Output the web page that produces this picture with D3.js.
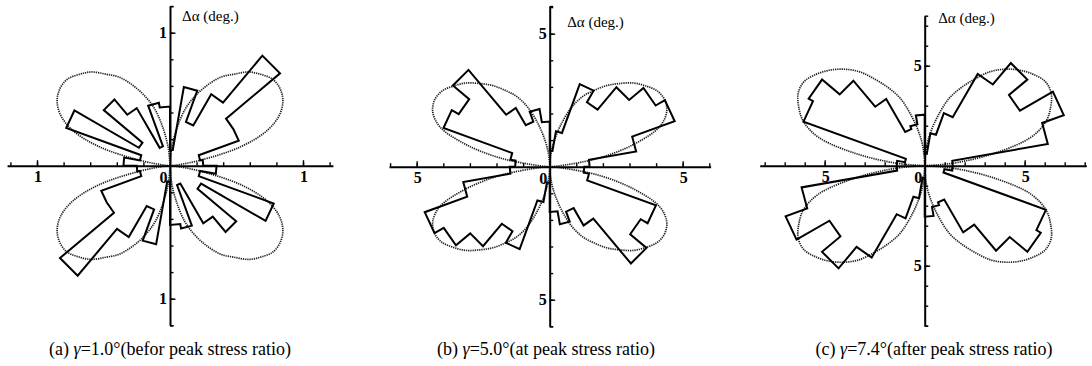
<!DOCTYPE html>
<html>
<head>
<meta charset="utf-8">
<script src="https://cdn.jsdelivr.net/npm/d3@7"></script>
<style>
  html, body { margin: 0; padding: 0; background: #fff; }
  svg { display: block; }
  .num { font-family: "Liberation Serif", "Times New Roman", Times, "DejaVu Serif", serif; font-weight: bold; font-size: 16px; fill: #000; }
  .unit { font-family: "Liberation Serif", "Times New Roman", Times, "DejaVu Serif", serif; font-size: 15px; fill: #000; }
  .cap { font-family: "Liberation Serif", "Times New Roman", Times, "DejaVu Serif", serif; font-size: 18px; fill: #000; }
</style>
</head>
<body>
<script>
// Rose of Δα over 10° direction bins, 0°–180°; axial data, so the bin at θ+180° repeats the bin at θ.
const binWidth = 10;
const histA = [0.25, 0.23, 0.55, 0.55, 1.08, 0.62, 0.35, 0.60, 0.12, 0.445, 0.48, 0.155, 0.50, 0.65, 0.27, 0.83, 0.23, 0.35];
const histB = [1.5, 3.3, 5.0, 4.6, 3.9, 2.8, 3.3, 1.35, 0.6, 1.7, 2.2, 1.8, 2.55, 4.75, 3.95, 4.25, 1.5, 1.3];
const histC = [1.4, 6.25, 7.4, 5.5, 6.7, 5.3, 2.8, 1.65, 0.6, 2.55, 2.1, 1.95, 3.85, 5.55, 6.7, 6.45, 1.0, 1.4];

// Fitted curve: radius of one lobe at these angles (first quadrant), mirrored into the other three.
const lobeAngles = [0, 5, 10, 15, 20, 25, 30, 35, 40, 45, 50, 55, 60, 65, 70, 75, 80, 85, 90];
const lobeA = [0, 0.04, 0.22, 0.55, 0.78, 0.91, 0.98, 1.01, 1.01, 0.97, 0.92, 0.84, 0.77, 0.67, 0.56, 0.44, 0.27, 0.12, 0];
const lobeB = [0, 0.35, 1.9, 3.3, 4.4, 4.85, 5.0, 4.95, 4.72, 4.45, 4.08, 3.72, 3.3, 2.9, 2.35, 1.65, 1.0, 0.45, 0];
const lobeC = [0, 1.4, 3.5, 5.5, 6.45, 6.95, 7.3, 7.35, 7.1, 6.75, 6.3, 5.75, 5.0, 4.3, 3.6, 2.6, 1.7, 0.9, 0];

// Axis annotation
const majorTick = [1, 5, 5];
const minorStep = [0.2, 1, 1];
const axisTitle = "Δα (deg.)";
const captionLead = ["(a) ", "(b) ", "(c) "];
const captionGamma = "γ";
const captionTail = ["=1.0°(befor peak stress ratio)", "=5.0°(at peak stress ratio)", "=7.4°(after peak stress ratio)"];

const hists = [histA, histB, histC];
const lobes = [lobeA, lobeB, lobeC];

// Layout of the three panels
const layout = [
  { cx: 170,   cy: 165.7, unit: 133,  xl: 1.225, xr: 1.225, yt: 1.2,  yb: 1.2,  titleDx: 12,   titleY: 21,   capX: 170 },
  { cx: 549.7, cy: 166.7, unit: 26.6, xl: 6.04,  xr: 6.05,  yt: 6.04, yb: 6.0,  titleDx: 17.5, titleY: 26.5, capX: 546 },
  { cx: 924.7, cy: 165.7, unit: 20,   xl: 8.25,  xr: 8.08,  yt: 7.5,  yb: 8.0,  titleDx: 13.5, titleY: 23,   capX: 934 }
];

const W = 1092, H = 366;
const svg = d3.select("body").append("svg").attr("width", W).attr("height", H);
svg.append("rect").attr("width", W).attr("height", H).attr("fill", "#fff");

const rad = d => d * Math.PI / 180;

layout.forEach((L, p) => {
  const g = svg.append("g");
  const x = d3.scaleLinear().domain([-L.xl, L.xr]).range([L.cx - L.xl * L.unit, L.cx + L.xr * L.unit]);
  const y = d3.scaleLinear().domain([-L.yb, L.yt]).range([L.cy + L.yb * L.unit, L.cy - L.yt * L.unit]);
  const px = d => x(d.r * Math.cos(rad(d.a)));
  const py = d => y(d.r * Math.sin(rad(d.a)));

  // fitted four-lobed curve (dotted)
  const lobeLine = d3.line().x(px).y(py).curve(d3.curveCatmullRom.alpha(0.5));
  const quadrant = [a => a, a => 180 - a, a => 180 + a, a => 360 - a];
  quadrant.forEach(f => {
    const pts = lobeAngles.map((a, i) => ({ a: f(a), r: lobes[p][i] }));
    g.append("path")
      .attr("d", lobeLine(pts))
      .attr("fill", "none")
      .attr("stroke", "#222")
      .attr("stroke-width", 1.7)
      .attr("stroke-dasharray", "1.3 0.9");
  });

  // axes through the origin, ticks pointing inward
  const minors = d3.range(-40, 41).map(i => +(i * minorStep[p]).toFixed(3));
  const hMinor = minors.filter(v => v !== 0 && v >= -L.xl && v <= L.xr);
  const vMinor = minors.filter(v => v !== 0 && v >= -L.yb && v <= L.yt);
  const ends = [-L.yb, L.yt];

  g.append("g").attr("transform", `translate(0,${L.cy})`)
    .call(d3.axisTop(x).tickValues(hMinor).tickSize(3.5).tickSizeOuter(0).tickFormat(""));
  g.append("g").attr("transform", `translate(0,${L.cy})`)
    .call(d3.axisTop(x).tickValues([-majorTick[p], majorTick[p]]).tickSize(5.5).tickSizeOuter(0).tickFormat(""))
    .select(".domain").remove();
  g.append("g").attr("transform", `translate(${L.cx},0)`)
    .call(d3.axisRight(y).tickValues(vMinor.concat(ends)).tickSize(3.5).tickSizeOuter(0).tickFormat(""));
  g.append("g").attr("transform", `translate(${L.cx},0)`)
    .call(d3.axisRight(y).tickValues([-majorTick[p], majorTick[p]]).tickSize(5.5).tickSizeOuter(0).tickFormat(""))
    .select(".domain").remove();
  g.selectAll(".domain").attr("stroke", "#000").attr("stroke-width", 2);
  g.selectAll(".tick line").attr("stroke", "#000").attr("stroke-width", 1.4);

  // tick labels (magnitudes on both sides)
  [-majorTick[p], majorTick[p]].forEach(v => {
    g.append("text").attr("class", "num").attr("x", x(v) + 1).attr("y", L.cy + 16.5)
      .attr("text-anchor", "middle").text(Math.abs(v));
    g.append("text").attr("class", "num").attr("x", L.cx - 3).attr("y", y(v) + 5.5)
      .attr("text-anchor", "end").text(Math.abs(v));
  });
  g.append("text").attr("class", "num").attr("x", L.cx - 2.5).attr("y", L.cy + 17)
    .attr("text-anchor", "end").text("0");

  g.append("text").attr("class", "unit").attr("x", L.cx + L.titleDx).attr("y", L.titleY).text(axisTitle);

  // rose outline: chord at the bin value across each bin, radial steps between bins
  const pts = [];
  for (let i = 0; i < 360 / binWidth; i++) {
    const v = hists[p][i % hists[p].length];
    pts.push({ a: i * binWidth, r: v }, { a: (i + 1) * binWidth, r: v });
  }
  g.append("path")
    .attr("d", d3.line().x(px).y(py).curve(d3.curveLinearClosed)(pts))
    .attr("fill", "none")
    .attr("stroke", "#000")
    .attr("stroke-width", 2)
    .attr("stroke-linejoin", "miter");

  // caption
  const cap = svg.append("text").attr("class", "cap").attr("x", L.capX).attr("y", 355).attr("text-anchor", "middle");
  cap.append("tspan").text(captionLead[p]);
  cap.append("tspan").attr("font-style", "italic").text(captionGamma);
  cap.append("tspan").text(captionTail[p]);
});
</script>
</body>
</html>
